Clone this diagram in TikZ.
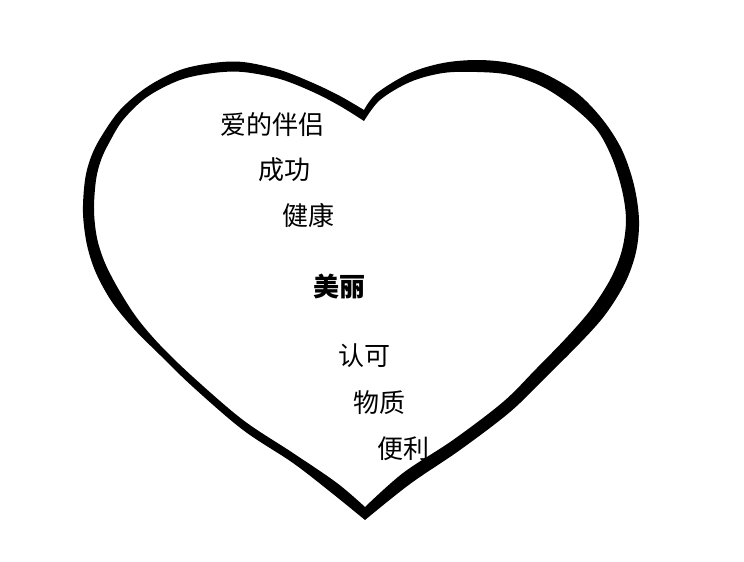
\documentclass[tikz,border=0pt]{standalone}
\usepackage{fontspec}
\newfontfamily\cjk{Noto Sans CJK SC}
\begin{document}
\begin{tikzpicture}[x=1pt,y=-1pt,
  word/.style={font=\cjk\fontsize{26}{30}\selectfont, inner sep=0pt, anchor=center},
  keyword/.style={word, font=\cjk\bfseries\fontsize{26}{30}\selectfont}]
\useasboundingbox[fill=white] (0,0) rectangle (744,562);
% heart outline as a filled band of varying width
\fill[black, even odd rule]
  plot[smooth, tension=0.55] coordinates {(364,110) (377,93) (410,73) (443,63) (477,60) (510,63) (543,73) (577,93) (603,120) (622,150) (634,185) (639,220) (636,252) (625,283) (605,315) (580,343) (545,378) (510,412) (460,450) (410,484) (365,520)}
  --plot[smooth, tension=0.55] coordinates {(365,520) (333,494) (293,463) (243,430) (193,387) (160,355) (134,329) (112,302) (96,273) (87,245) (83,213) (85,180) (91,157) (101,137) (120,110) (147,87) (180,70) (213,63) (243,62) (280,70) (313,83) (340,96) (364,110)}
  -- cycle
  plot[smooth, tension=0.55] coordinates {(364,121) (380,100) (410,82) (443,73) (477,72) (510,75) (543,87) (573,107) (597,130) (612,158) (622,190) (626,220) (622,250) (611,278) (592,308) (568,336) (536,369) (503,402) (453,440) (403,473) (365,507)}
  --plot[smooth, tension=0.55] coordinates {(365,507) (337,483) (293,453) (243,420) (193,377) (160,345) (137,318) (119,290) (105,263) (97,238) (94,210) (96,180) (101,160) (109,143) (123,120) (147,97) (180,80) (213,73) (243,72) (280,79) (313,92) (340,106) (364,121)}
  -- cycle;
\node[word] (partner) at (272,125) {爱的伴侣};
\node[word] (success) at (284,170) {成功};
\node[word] (health) at (308,215) {健康};
\node[keyword] (beauty) at (339,287) {美丽};
\node[word] (recognition) at (364,356) {认可};
\node[word] (material) at (379,403) {物质};
\node[word] (convenience) at (403,449) {便利};
\end{tikzpicture}
\end{document}
